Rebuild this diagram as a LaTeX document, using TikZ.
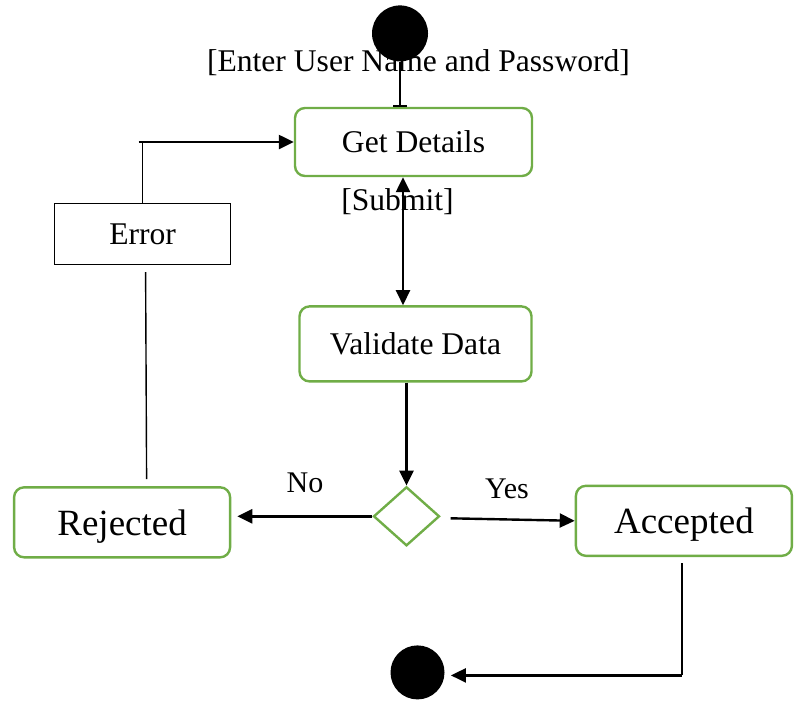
\documentclass[tikz,border=0pt]{standalone}
\usepackage{fontspec}
\setmainfont{Liberation Serif}
\usepackage{tikz}
\usetikzlibrary{arrows.meta,positioning,calc,shapes.geometric}
\definecolor{actgreen}{HTML}{70AD47}

\begin{document}
\begin{tikzpicture}[
  >={Triangle[length=7.5pt,width=7pt]},
  every node/.style={font=\fontsize{15.8}{18}\selectfont},
  act/.style={draw=actgreen,line width=1.2pt,rounded corners=5pt,inner sep=2pt},
  bigact/.style={act,minimum width=108pt,minimum height=35pt,text depth=0pt,font=\fontsize{18.5}{21}\selectfont},
  errbox/.style={draw,line width=0.6pt,minimum width=88pt,minimum height=30.5pt},
  choice/.style={diamond,draw=actgreen,line width=1.2pt,minimum width=33pt,minimum height=29.5pt,inner sep=0pt},
  blob/.style={circle,fill=black,inner sep=0pt,minimum size=#1},
  flow/.style={->,line width=1.2pt},
  link/.style={line width=0.7pt}
]
\useasboundingbox (0,0) rectangle (398pt,-354pt);

\node[inner sep=0pt] (enterlbl) at (209.25pt,-31.5pt) {[Enter User Name and Password]};
\node[inner sep=0pt] (submitlbl) at (198.75pt,-101pt) {[Submit]};
\node[inner sep=0pt,font=\fontsize{15}{18}\selectfont] (nolbl) at (152.5pt,-241.5pt) {No};
\node[inner sep=0pt,font=\fontsize{15}{18}\selectfont] (yeslbl) at (253.5pt,-244.5pt) {Yes};

\node[act,minimum width=118.5pt,minimum height=34pt] (getd) at (206.75pt,-71pt) {Get Details};
\node[act,minimum width=116pt,minimum height=37.5pt,below=64pt of getd,xshift=1pt] (valid) {Validate Data};
\node[choice,below=51.5pt of valid,xshift=-4.5pt] (dec) {};
\node[bigact,left=70.5pt of dec,yshift=-3pt] (rej) {Rejected};
\node[bigact,right=67pt of dec,yshift=-2.25pt] (acc) {Accepted};
\node[errbox,above=110.5pt of rej,xshift=10.25pt] (err) {Error};
\node[blob=28pt,above=22.5pt of getd,xshift=-6.75pt] (start) {};
\node[blob=27pt,below=49pt of dec,xshift=5.5pt] (stop) {};

\draw[line width=1pt,-{Bar[width=7pt]}] (start) -- (start |- getd.north);
\draw[flow,<->] ($(start |- getd.south)+(1.5pt,0)$) -- ($(start |- valid.north)+(1.5pt,0)$);
\draw[flow] (dec |- valid.south) -- (dec.north);
\draw[flow,shorten >=3pt] (dec.west) -- (dec.west -| rej.east);
\draw[flow] ($(dec.east)+(5pt,-1pt)$) -- (acc.west);
\draw[link] ($(err.south |- rej.north)+(2pt,3.5pt)$) -- ($(err.south)+(1.5pt,-3.5pt)$);
\draw[link] (err.north) -- (err.north |- getd.west);
\draw[flow] ($(err.north |- getd.west)+(-2pt,0)$) -- (getd.west);
\coordinate (turn) at ($(acc.south |- stop.east)+(-1pt,-1.5pt)$);
\draw[link] ($(acc.south)+(-1pt,-3pt)$) -- (turn);
\draw[flow,shorten >=3pt] (turn) -- (stop.east |- turn);
\end{tikzpicture}
\end{document}
